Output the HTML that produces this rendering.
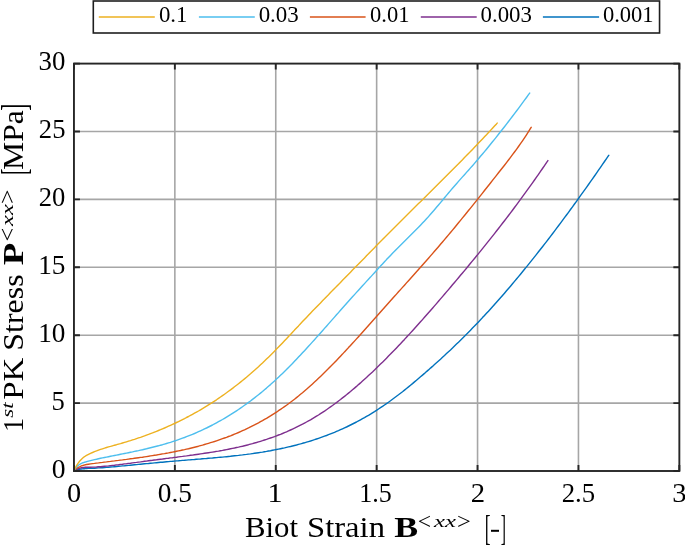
<!DOCTYPE html>
<html><head><meta charset="utf-8"><style>
html,body{margin:0;padding:0;background:#fff;}
body{width:685px;height:545px;overflow:hidden;}
svg{display:block;will-change:transform;}
text{font-family:"Liberation Serif",serif;fill:#000;font-kerning:none;}
</style></head><body>
<svg width="685" height="545" viewBox="0 0 685 545">
<rect width="685" height="545" fill="#fff"/>
<g stroke="#a6a6a6" stroke-width="1.6"><line x1="174.85" y1="63.60" x2="174.85" y2="471.00"/><line x1="275.75" y1="63.60" x2="275.75" y2="471.00"/><line x1="376.65" y1="63.60" x2="376.65" y2="471.00"/><line x1="477.55" y1="63.60" x2="477.55" y2="471.00"/><line x1="578.45" y1="63.60" x2="578.45" y2="471.00"/><line x1="73.95" y1="403.10" x2="679.35" y2="403.10"/><line x1="73.95" y1="335.20" x2="679.35" y2="335.20"/><line x1="73.95" y1="267.30" x2="679.35" y2="267.30"/><line x1="73.95" y1="199.40" x2="679.35" y2="199.40"/><line x1="73.95" y1="131.50" x2="679.35" y2="131.50"/></g>
<g fill="none" stroke-width="1.4" stroke-linejoin="round" stroke-linecap="round"><path d="M74.0,470.5 L74.5,470.3 L75.0,470.2 L75.5,470.1 L76.0,469.9 L76.5,469.8 L77.0,469.7 L77.5,469.6 L78.0,469.5 L78.5,469.4 L79.0,469.3 L79.5,469.2 L80.0,469.2 L80.5,469.1 L81.0,469.0 L81.5,469.0 L82.0,468.9 L82.5,468.9 L83.0,468.8 L83.5,468.8 L84.0,468.7 L84.5,468.7 L85.0,468.6 L85.5,468.6 L86.0,468.6 L86.5,468.5 L88.5,468.4 L90.5,468.3 L92.5,468.2 L94.5,468.2 L96.5,468.0 L98.5,467.9 L100.5,467.8 L102.5,467.7 L104.5,467.5 L106.5,467.4 L108.5,467.2 L110.5,467.0 L112.5,466.9 L114.5,466.7 L116.5,466.5 L118.5,466.3 L120.5,466.1 L122.5,465.9 L124.5,465.8 L126.5,465.6 L128.5,465.4 L130.5,465.2 L132.5,465.0 L134.5,464.8 L136.5,464.6 L138.5,464.4 L140.5,464.2 L142.5,464.0 L144.5,463.8 L146.5,463.6 L148.5,463.5 L150.5,463.3 L152.5,463.1 L154.5,462.9 L156.5,462.7 L158.5,462.5 L160.5,462.3 L162.5,462.2 L164.5,462.0 L166.5,461.8 L168.5,461.6 L170.5,461.4 L172.5,461.3 L174.5,461.1 L176.5,460.9 L178.5,460.8 L180.5,460.6 L182.5,460.4 L184.5,460.3 L186.5,460.1 L188.5,459.9 L190.5,459.8 L192.5,459.6 L194.5,459.5 L196.5,459.3 L198.5,459.1 L200.5,459.0 L202.5,458.8 L204.5,458.6 L206.5,458.5 L208.5,458.3 L210.5,458.1 L212.5,458.0 L214.5,457.8 L216.5,457.6 L218.5,457.4 L220.5,457.2 L222.5,457.1 L224.5,456.9 L226.5,456.7 L228.5,456.5 L230.5,456.3 L232.5,456.0 L234.5,455.8 L236.5,455.6 L238.5,455.4 L240.5,455.1 L242.5,454.9 L244.5,454.6 L246.5,454.4 L248.5,454.1 L250.5,453.9 L252.5,453.6 L254.5,453.3 L256.5,453.0 L258.5,452.7 L260.5,452.4 L262.5,452.1 L264.5,451.7 L266.5,451.4 L268.5,451.0 L270.5,450.7 L272.5,450.3 L274.5,449.9 L276.5,449.5 L278.5,449.1 L280.5,448.7 L282.5,448.3 L284.5,447.9 L286.5,447.4 L288.5,446.9 L290.5,446.5 L292.5,446.0 L294.5,445.5 L296.5,445.0 L298.5,444.4 L300.5,443.9 L302.5,443.3 L304.5,442.8 L306.5,442.2 L308.5,441.6 L310.5,441.0 L312.5,440.3 L314.5,439.7 L316.5,439.0 L318.5,438.3 L320.5,437.6 L322.5,436.9 L324.5,436.2 L326.5,435.5 L328.5,434.7 L330.5,433.9 L332.5,433.1 L334.5,432.3 L336.5,431.4 L338.5,430.6 L340.5,429.7 L342.5,428.8 L344.5,427.9 L346.5,427.0 L348.5,426.0 L350.5,425.0 L352.5,424.0 L354.5,423.0 L356.5,422.0 L358.5,420.9 L360.5,419.8 L362.5,418.7 L364.5,417.6 L366.5,416.4 L368.5,415.3 L370.5,414.1 L372.5,412.8 L374.5,411.6 L376.5,410.3 L378.5,409.0 L380.5,407.7 L382.5,406.4 L384.5,405.0 L386.5,403.6 L388.5,402.2 L390.5,400.8 L392.5,399.3 L394.5,397.8 L396.5,396.3 L398.5,394.8 L400.5,393.2 L402.5,391.7 L404.5,390.1 L406.5,388.5 L408.5,386.9 L410.5,385.2 L412.5,383.6 L414.5,381.9 L416.5,380.2 L418.5,378.5 L420.5,376.8 L422.5,375.1 L424.5,373.4 L426.5,371.6 L428.5,369.9 L430.5,368.1 L432.5,366.4 L434.5,364.6 L436.5,362.8 L438.5,361.0 L440.5,359.2 L442.5,357.3 L444.5,355.5 L446.5,353.6 L448.5,351.7 L450.5,349.9 L452.5,348.0 L454.5,346.0 L456.5,344.1 L458.5,342.2 L460.5,340.2 L462.5,338.2 L464.5,336.2 L466.5,334.2 L468.5,332.2 L470.5,330.2 L472.5,328.1 L474.5,326.1 L476.5,324.0 L478.5,321.9 L480.5,319.8 L482.5,317.6 L484.5,315.5 L486.5,313.3 L488.5,311.2 L490.5,309.0 L492.5,306.8 L494.5,304.5 L496.5,302.3 L498.5,300.0 L500.5,297.8 L502.5,295.5 L504.5,293.2 L506.5,290.8 L508.5,288.5 L510.5,286.2 L512.5,283.8 L514.5,281.4 L516.5,279.0 L518.5,276.6 L520.5,274.2 L522.5,271.8 L524.5,269.3 L526.5,266.9 L528.5,264.4 L530.5,261.9 L532.5,259.4 L534.5,256.9 L536.5,254.4 L538.5,251.8 L540.5,249.3 L542.5,246.7 L544.5,244.1 L546.5,241.6 L548.5,239.0 L550.5,236.3 L552.5,233.7 L554.5,231.1 L556.5,228.4 L558.5,225.8 L560.5,223.1 L562.5,220.4 L564.5,217.7 L566.5,215.0 L568.5,212.3 L570.5,209.5 L572.5,206.8 L574.5,204.0 L576.5,201.3 L578.5,198.5 L580.5,195.7 L582.5,192.9 L584.5,190.1 L586.5,187.3 L588.5,184.5 L590.5,181.7 L592.5,178.8 L594.5,176.0 L596.5,173.1 L598.5,170.2 L600.5,167.3 L602.5,164.4 L604.5,161.5 L606.5,158.6 L608.5,155.7 L608.8,155.3" stroke="#0072BD"/><path d="M74.0,470.5 L74.5,470.2 L75.0,469.9 L75.5,469.7 L76.0,469.4 L76.5,469.2 L77.0,469.0 L77.5,468.8 L78.0,468.6 L78.5,468.5 L79.0,468.3 L79.5,468.2 L80.0,468.1 L80.5,468.0 L81.0,467.9 L81.5,467.8 L82.0,467.7 L82.5,467.6 L83.0,467.5 L83.5,467.5 L84.0,467.4 L84.5,467.4 L85.0,467.3 L85.5,467.3 L86.0,467.3 L86.5,467.3 L88.5,467.2 L90.5,467.2 L92.5,467.1 L94.5,467.1 L96.5,467.0 L98.5,466.8 L100.5,466.7 L102.5,466.5 L104.5,466.3 L106.5,466.1 L108.5,465.9 L110.5,465.6 L112.5,465.4 L114.5,465.2 L116.5,464.9 L118.5,464.7 L120.5,464.4 L122.5,464.2 L124.5,463.9 L126.5,463.7 L128.5,463.4 L130.5,463.2 L132.5,462.9 L134.5,462.6 L136.5,462.4 L138.5,462.1 L140.5,461.9 L142.5,461.6 L144.5,461.3 L146.5,461.1 L148.5,460.8 L150.5,460.5 L152.5,460.3 L154.5,460.0 L156.5,459.8 L158.5,459.5 L160.5,459.2 L162.5,459.0 L164.5,458.7 L166.5,458.4 L168.5,458.2 L170.5,457.9 L172.5,457.7 L174.5,457.4 L176.5,457.2 L178.5,456.9 L180.5,456.6 L182.5,456.4 L184.5,456.1 L186.5,455.9 L188.5,455.6 L190.5,455.3 L192.5,455.1 L194.5,454.8 L196.5,454.5 L198.5,454.2 L200.5,453.9 L202.5,453.6 L204.5,453.3 L206.5,453.0 L208.5,452.7 L210.5,452.4 L212.5,452.1 L214.5,451.8 L216.5,451.4 L218.5,451.1 L220.5,450.7 L222.5,450.4 L224.5,450.0 L226.5,449.6 L228.5,449.2 L230.5,448.8 L232.5,448.4 L234.5,448.0 L236.5,447.5 L238.5,447.1 L240.5,446.6 L242.5,446.2 L244.5,445.7 L246.5,445.2 L248.5,444.7 L250.5,444.1 L252.5,443.6 L254.5,443.0 L256.5,442.5 L258.5,441.9 L260.5,441.3 L262.5,440.7 L264.5,440.0 L266.5,439.4 L268.5,438.7 L270.5,438.0 L272.5,437.3 L274.5,436.6 L276.5,435.8 L278.5,435.0 L280.5,434.3 L282.5,433.5 L284.5,432.6 L286.5,431.8 L288.5,430.9 L290.5,430.0 L292.5,429.1 L294.5,428.2 L296.5,427.2 L298.5,426.2 L300.5,425.2 L302.5,424.2 L304.5,423.1 L306.5,422.0 L308.5,420.9 L310.5,419.8 L312.5,418.6 L314.5,417.4 L316.5,416.2 L318.5,415.0 L320.5,413.7 L322.5,412.4 L324.5,411.1 L326.5,409.7 L328.5,408.3 L330.5,406.9 L332.5,405.5 L334.5,404.0 L336.5,402.6 L338.5,401.0 L340.5,399.5 L342.5,397.9 L344.5,396.4 L346.5,394.8 L348.5,393.1 L350.5,391.5 L352.5,389.8 L354.5,388.1 L356.5,386.4 L358.5,384.6 L360.5,382.9 L362.5,381.1 L364.5,379.3 L366.5,377.5 L368.5,375.6 L370.5,373.7 L372.5,371.9 L374.5,370.0 L376.5,368.0 L378.5,366.1 L380.5,364.1 L382.5,362.2 L384.5,360.2 L386.5,358.2 L388.5,356.1 L390.5,354.1 L392.5,352.0 L394.5,350.0 L396.5,347.9 L398.5,345.8 L400.5,343.7 L402.5,341.5 L404.5,339.4 L406.5,337.2 L408.5,335.1 L410.5,332.9 L412.5,330.7 L414.5,328.5 L416.5,326.3 L418.5,324.0 L420.5,321.8 L422.5,319.6 L424.5,317.3 L426.5,315.0 L428.5,312.8 L430.5,310.5 L432.5,308.2 L434.5,305.9 L436.5,303.6 L438.5,301.2 L440.5,298.9 L442.5,296.6 L444.5,294.3 L446.5,291.9 L448.5,289.6 L450.5,287.2 L452.5,284.8 L454.5,282.5 L456.5,280.1 L458.5,277.7 L460.5,275.3 L462.5,273.0 L464.5,270.6 L466.5,268.2 L468.5,265.7 L470.5,263.3 L472.5,260.9 L474.5,258.5 L476.5,256.0 L478.5,253.6 L480.5,251.1 L482.5,248.6 L484.5,246.1 L486.5,243.6 L488.5,241.1 L490.5,238.6 L492.5,236.1 L494.5,233.6 L496.5,231.0 L498.5,228.5 L500.5,225.9 L502.5,223.3 L504.5,220.7 L506.5,218.1 L508.5,215.5 L510.5,212.8 L512.5,210.2 L514.5,207.5 L516.5,204.8 L518.5,202.1 L520.5,199.4 L522.5,196.7 L524.5,193.9 L526.5,191.2 L528.5,188.4 L530.5,185.6 L532.5,182.8 L534.5,180.0 L536.5,177.1 L538.5,174.3 L540.5,171.4 L542.5,168.5 L544.5,165.6 L546.5,162.6 L547.9,160.6" stroke="#7E2F8E"/><path d="M74.0,470.5 L74.5,470.0 L75.0,469.6 L75.5,469.2 L76.0,468.8 L76.5,468.5 L77.0,468.2 L77.5,467.9 L78.0,467.6 L78.5,467.3 L79.0,467.0 L79.5,466.8 L80.0,466.6 L80.5,466.3 L81.0,466.1 L81.5,465.9 L82.0,465.7 L82.5,465.6 L83.0,465.4 L83.5,465.3 L84.0,465.1 L84.5,465.0 L85.0,464.9 L85.5,464.7 L86.0,464.6 L86.5,464.5 L88.5,464.2 L90.5,463.9 L92.5,463.6 L94.5,463.4 L96.5,463.1 L98.5,462.9 L100.5,462.6 L102.5,462.4 L104.5,462.1 L106.5,461.9 L108.5,461.6 L110.5,461.4 L112.5,461.1 L114.5,460.9 L116.5,460.6 L118.5,460.4 L120.5,460.1 L122.5,459.9 L124.5,459.6 L126.5,459.4 L128.5,459.1 L130.5,458.8 L132.5,458.6 L134.5,458.3 L136.5,458.0 L138.5,457.7 L140.5,457.4 L142.5,457.2 L144.5,456.9 L146.5,456.6 L148.5,456.3 L150.5,455.9 L152.5,455.6 L154.5,455.3 L156.5,455.0 L158.5,454.6 L160.5,454.3 L162.5,453.9 L164.5,453.6 L166.5,453.2 L168.5,452.9 L170.5,452.5 L172.5,452.1 L174.5,451.7 L176.5,451.3 L178.5,450.9 L180.5,450.5 L182.5,450.0 L184.5,449.6 L186.5,449.1 L188.5,448.7 L190.5,448.2 L192.5,447.7 L194.5,447.2 L196.5,446.7 L198.5,446.2 L200.5,445.6 L202.5,445.1 L204.5,444.5 L206.5,443.9 L208.5,443.3 L210.5,442.7 L212.5,442.1 L214.5,441.5 L216.5,440.8 L218.5,440.1 L220.5,439.4 L222.5,438.7 L224.5,438.0 L226.5,437.3 L228.5,436.5 L230.5,435.8 L232.5,435.0 L234.5,434.1 L236.5,433.3 L238.5,432.5 L240.5,431.6 L242.5,430.7 L244.5,429.8 L246.5,428.8 L248.5,427.9 L250.5,426.9 L252.5,425.9 L254.5,424.9 L256.5,423.8 L258.5,422.8 L260.5,421.7 L262.5,420.6 L264.5,419.4 L266.5,418.3 L268.5,417.1 L270.5,415.9 L272.5,414.6 L274.5,413.3 L276.5,412.1 L278.5,410.7 L280.5,409.4 L282.5,408.0 L284.5,406.6 L286.5,405.2 L288.5,403.7 L290.5,402.2 L292.5,400.7 L294.5,399.2 L296.5,397.6 L298.5,396.0 L300.5,394.3 L302.5,392.7 L304.5,391.0 L306.5,389.3 L308.5,387.5 L310.5,385.7 L312.5,383.9 L314.5,382.1 L316.5,380.2 L318.5,378.3 L320.5,376.4 L322.5,374.5 L324.5,372.5 L326.5,370.6 L328.5,368.6 L330.5,366.5 L332.5,364.5 L334.5,362.5 L336.5,360.4 L338.5,358.3 L340.5,356.2 L342.5,354.1 L344.5,351.9 L346.5,349.8 L348.5,347.6 L350.5,345.5 L352.5,343.3 L354.5,341.1 L356.5,338.9 L358.5,336.7 L360.5,334.5 L362.5,332.3 L364.5,330.0 L366.5,327.8 L368.5,325.5 L370.5,323.3 L372.5,321.0 L374.5,318.8 L376.5,316.5 L378.5,314.3 L380.5,312.0 L382.5,309.8 L384.5,307.5 L386.5,305.3 L388.5,303.0 L390.5,300.8 L392.5,298.5 L394.5,296.3 L396.5,294.1 L398.5,291.8 L400.5,289.6 L402.5,287.4 L404.5,285.2 L406.5,282.9 L408.5,280.7 L410.5,278.5 L412.5,276.2 L414.5,274.0 L416.5,271.8 L418.5,269.5 L420.5,267.3 L422.5,265.0 L424.5,262.7 L426.5,260.5 L428.5,258.2 L430.5,255.9 L432.5,253.6 L434.5,251.3 L436.5,249.0 L438.5,246.7 L440.5,244.3 L442.5,242.0 L444.5,239.6 L446.5,237.3 L448.5,234.9 L450.5,232.5 L452.5,230.1 L454.5,227.7 L456.5,225.2 L458.5,222.8 L460.5,220.4 L462.5,217.9 L464.5,215.5 L466.5,213.0 L468.5,210.5 L470.5,208.1 L472.5,205.6 L474.5,203.1 L476.5,200.6 L478.5,198.1 L480.5,195.6 L482.5,193.1 L484.5,190.5 L486.5,188.0 L488.5,185.5 L490.5,183.0 L492.5,180.4 L494.5,177.9 L496.5,175.4 L498.5,172.8 L500.5,170.3 L502.5,167.7 L504.5,165.2 L506.5,162.6 L508.5,160.0 L510.5,157.4 L512.5,154.7 L514.5,152.0 L516.5,149.3 L518.5,146.5 L520.5,143.7 L522.5,140.8 L524.5,137.8 L526.5,134.8 L528.5,131.7 L530.5,128.4 L531.2,127.3" stroke="#D95319"/><path d="M74.0,470.5 L74.5,469.7 L75.0,469.0 L75.5,468.3 L76.0,467.7 L76.5,467.1 L77.0,466.6 L77.5,466.1 L78.0,465.6 L78.5,465.2 L79.0,464.8 L79.5,464.5 L80.0,464.2 L80.5,463.9 L81.0,463.6 L81.5,463.4 L82.0,463.1 L82.5,462.9 L83.0,462.7 L83.5,462.6 L84.0,462.4 L84.5,462.2 L85.0,462.1 L85.5,462.0 L86.0,461.8 L86.5,461.7 L88.5,461.1 L90.5,460.6 L92.5,460.1 L94.5,459.6 L96.5,459.2 L98.5,458.7 L100.5,458.3 L102.5,457.9 L104.5,457.5 L106.5,457.1 L108.5,456.7 L110.5,456.3 L112.5,455.9 L114.5,455.5 L116.5,455.1 L118.5,454.7 L120.5,454.3 L122.5,453.9 L124.5,453.5 L126.5,453.1 L128.5,452.7 L130.5,452.3 L132.5,451.9 L134.5,451.4 L136.5,451.0 L138.5,450.6 L140.5,450.1 L142.5,449.7 L144.5,449.2 L146.5,448.8 L148.5,448.3 L150.5,447.8 L152.5,447.3 L154.5,446.8 L156.5,446.3 L158.5,445.8 L160.5,445.2 L162.5,444.7 L164.5,444.1 L166.5,443.5 L168.5,442.9 L170.5,442.3 L172.5,441.6 L174.5,441.0 L176.5,440.3 L178.5,439.6 L180.5,438.9 L182.5,438.2 L184.5,437.5 L186.5,436.7 L188.5,435.9 L190.5,435.1 L192.5,434.3 L194.5,433.5 L196.5,432.6 L198.5,431.7 L200.5,430.8 L202.5,429.9 L204.5,428.9 L206.5,428.0 L208.5,427.0 L210.5,426.0 L212.5,425.0 L214.5,423.9 L216.5,422.8 L218.5,421.7 L220.5,420.6 L222.5,419.5 L224.5,418.3 L226.5,417.1 L228.5,415.9 L230.5,414.7 L232.5,413.4 L234.5,412.1 L236.5,410.8 L238.5,409.5 L240.5,408.1 L242.5,406.7 L244.5,405.3 L246.5,403.9 L248.5,402.4 L250.5,401.0 L252.5,399.4 L254.5,397.9 L256.5,396.3 L258.5,394.7 L260.5,393.1 L262.5,391.5 L264.5,389.8 L266.5,388.1 L268.5,386.3 L270.5,384.6 L272.5,382.8 L274.5,381.0 L276.5,379.1 L278.5,377.2 L280.5,375.3 L282.5,373.4 L284.5,371.4 L286.5,369.5 L288.5,367.4 L290.5,365.4 L292.5,363.4 L294.5,361.3 L296.5,359.2 L298.5,357.1 L300.5,355.0 L302.5,352.8 L304.5,350.7 L306.5,348.5 L308.5,346.3 L310.5,344.1 L312.5,341.9 L314.5,339.7 L316.5,337.4 L318.5,335.2 L320.5,333.0 L322.5,330.7 L324.5,328.4 L326.5,326.2 L328.5,323.9 L330.5,321.6 L332.5,319.4 L334.5,317.1 L336.5,314.8 L338.5,312.6 L340.5,310.3 L342.5,308.0 L344.5,305.8 L346.5,303.5 L348.5,301.3 L350.5,299.0 L352.5,296.8 L354.5,294.6 L356.5,292.4 L358.5,290.2 L360.5,288.0 L362.5,285.8 L364.5,283.6 L366.5,281.4 L368.5,279.2 L370.5,277.1 L372.5,274.9 L374.5,272.7 L376.5,270.5 L378.5,268.3 L380.5,266.1 L382.5,264.0 L384.5,261.8 L386.5,259.6 L388.5,257.5 L390.5,255.4 L392.5,253.3 L394.5,251.3 L396.5,249.2 L398.5,247.2 L400.5,245.2 L402.5,243.2 L404.5,241.3 L406.5,239.3 L408.5,237.3 L410.5,235.3 L412.5,233.3 L414.5,231.3 L416.5,229.3 L418.5,227.3 L420.5,225.2 L422.5,223.1 L424.5,221.0 L426.5,218.8 L428.5,216.6 L430.5,214.3 L432.5,212.0 L434.5,209.7 L436.5,207.3 L438.5,205.0 L440.5,202.6 L442.5,200.2 L444.5,197.8 L446.5,195.4 L448.5,193.0 L450.5,190.6 L452.5,188.3 L454.5,186.0 L456.5,183.7 L458.5,181.4 L460.5,179.1 L462.5,176.9 L464.5,174.7 L466.5,172.4 L468.5,170.2 L470.5,167.9 L472.5,165.7 L474.5,163.4 L476.5,161.0 L478.5,158.7 L480.5,156.3 L482.5,154.0 L484.5,151.6 L486.5,149.2 L488.5,146.7 L490.5,144.3 L492.5,141.8 L494.5,139.4 L496.5,136.9 L498.5,134.3 L500.5,131.8 L502.5,129.3 L504.5,126.7 L506.5,124.1 L508.5,121.5 L510.5,118.9 L512.5,116.3 L514.5,113.6 L516.5,111.0 L518.5,108.3 L520.5,105.6 L522.5,102.9 L524.5,100.2 L526.5,97.5 L528.5,94.7 L529.7,93.1" stroke="#4DBEEE"/><path d="M74.0,470.5 L74.5,469.2 L75.0,468.3 L75.5,467.4 L76.0,466.5 L76.5,465.7 L77.0,464.9 L77.5,464.1 L78.0,463.4 L78.5,462.7 L79.0,462.0 L79.5,461.4 L80.0,460.8 L80.5,460.2 L81.0,459.7 L81.5,459.2 L82.0,458.7 L82.5,458.3 L83.0,457.8 L83.5,457.4 L84.0,457.0 L84.5,456.7 L85.0,456.3 L85.5,456.0 L86.0,455.6 L86.5,455.3 L88.5,454.3 L90.5,453.3 L92.5,452.5 L94.5,451.6 L96.5,450.9 L98.5,450.1 L100.5,449.4 L102.5,448.8 L104.5,448.2 L106.5,447.5 L108.5,446.9 L110.5,446.4 L112.5,445.8 L114.5,445.2 L116.5,444.7 L118.5,444.1 L120.5,443.6 L122.5,443.0 L124.5,442.4 L126.5,441.8 L128.5,441.2 L130.5,440.6 L132.5,439.9 L134.5,439.3 L136.5,438.6 L138.5,437.9 L140.5,437.3 L142.5,436.6 L144.5,435.9 L146.5,435.1 L148.5,434.4 L150.5,433.6 L152.5,432.9 L154.5,432.1 L156.5,431.3 L158.5,430.5 L160.5,429.7 L162.5,428.8 L164.5,428.0 L166.5,427.1 L168.5,426.2 L170.5,425.3 L172.5,424.4 L174.5,423.5 L176.5,422.5 L178.5,421.6 L180.5,420.6 L182.5,419.6 L184.5,418.6 L186.5,417.5 L188.5,416.5 L190.5,415.4 L192.5,414.3 L194.5,413.2 L196.5,412.1 L198.5,411.0 L200.5,409.8 L202.5,408.6 L204.5,407.4 L206.5,406.2 L208.5,404.9 L210.5,403.7 L212.5,402.4 L214.5,401.1 L216.5,399.8 L218.5,398.4 L220.5,397.0 L222.5,395.6 L224.5,394.2 L226.5,392.8 L228.5,391.3 L230.5,389.9 L232.5,388.4 L234.5,386.8 L236.5,385.3 L238.5,383.7 L240.5,382.1 L242.5,380.5 L244.5,378.9 L246.5,377.2 L248.5,375.5 L250.5,373.8 L252.5,372.0 L254.5,370.3 L256.5,368.5 L258.5,366.7 L260.5,364.8 L262.5,363.0 L264.5,361.1 L266.5,359.1 L268.5,357.2 L270.5,355.2 L272.5,353.2 L274.5,351.2 L276.5,349.1 L278.5,347.1 L280.5,345.0 L282.5,342.9 L284.5,340.8 L286.5,338.7 L288.5,336.5 L290.5,334.4 L292.5,332.3 L294.5,330.1 L296.5,328.0 L298.5,325.9 L300.5,323.7 L302.5,321.6 L304.5,319.5 L306.5,317.4 L308.5,315.3 L310.5,313.2 L312.5,311.1 L314.5,309.1 L316.5,307.0 L318.5,304.9 L320.5,302.9 L322.5,300.8 L324.5,298.8 L326.5,296.7 L328.5,294.7 L330.5,292.6 L332.5,290.6 L334.5,288.5 L336.5,286.5 L338.5,284.4 L340.5,282.4 L342.5,280.3 L344.5,278.3 L346.5,276.2 L348.5,274.2 L350.5,272.2 L352.5,270.1 L354.5,268.1 L356.5,266.0 L358.5,264.0 L360.5,261.9 L362.5,259.9 L364.5,257.9 L366.5,255.8 L368.5,253.8 L370.5,251.7 L372.5,249.7 L374.5,247.7 L376.5,245.6 L378.5,243.6 L380.5,241.6 L382.5,239.6 L384.5,237.5 L386.5,235.5 L388.5,233.5 L390.5,231.5 L392.5,229.5 L394.5,227.5 L396.5,225.5 L398.5,223.5 L400.5,221.5 L402.5,219.5 L404.5,217.5 L406.5,215.5 L408.5,213.5 L410.5,211.6 L412.5,209.6 L414.5,207.6 L416.5,205.6 L418.5,203.6 L420.5,201.7 L422.5,199.7 L424.5,197.7 L426.5,195.7 L428.5,193.8 L430.5,191.8 L432.5,189.8 L434.5,187.8 L436.5,185.8 L438.5,183.8 L440.5,181.8 L442.5,179.8 L444.5,177.8 L446.5,175.8 L448.5,173.8 L450.5,171.8 L452.5,169.8 L454.5,167.8 L456.5,165.8 L458.5,163.8 L460.5,161.7 L462.5,159.7 L464.5,157.6 L466.5,155.6 L468.5,153.5 L470.5,151.5 L472.5,149.4 L474.5,147.3 L476.5,145.2 L478.5,143.1 L480.5,141.0 L482.5,138.9 L484.5,136.8 L486.5,134.7 L488.5,132.5 L490.5,130.4 L492.5,128.2 L494.5,126.0 L496.5,123.9 L497.2,123.1" stroke="#EDB120"/></g>
<path d="M73.95,471.00v-6.0M73.95,63.60v6.0M73.95,471.00h6.0M679.35,471.00h-6.0M174.85,471.00v-6.0M174.85,63.60v6.0M73.95,403.10h6.0M679.35,403.10h-6.0M275.75,471.00v-6.0M275.75,63.60v6.0M73.95,335.20h6.0M679.35,335.20h-6.0M376.65,471.00v-6.0M376.65,63.60v6.0M73.95,267.30h6.0M679.35,267.30h-6.0M477.55,471.00v-6.0M477.55,63.60v6.0M73.95,199.40h6.0M679.35,199.40h-6.0M578.45,471.00v-6.0M578.45,63.60v6.0M73.95,131.50h6.0M679.35,131.50h-6.0M679.35,471.00v-6.0M679.35,63.60v6.0M73.95,63.60h6.0M679.35,63.60h-6.0" stroke="#262626" stroke-width="1.9" fill="none"/>
<rect x="73.95" y="63.6" width="605.40" height="407.40" fill="none" stroke="#262626" stroke-width="1.9"/>
<g><text x="67.02" y="501.84" font-size="26.97" textLength="14.16" lengthAdjust="spacingAndGlyphs">0</text><text x="157.76" y="501.84" font-size="26.97" textLength="34.21" lengthAdjust="spacingAndGlyphs">0.5</text><text x="267.55" y="501.84" font-size="26.97" textLength="15.05" lengthAdjust="spacingAndGlyphs">1</text><text x="359.31" y="501.84" font-size="26.97" textLength="32.50" lengthAdjust="spacingAndGlyphs">1.5</text><text x="470.84" y="501.84" font-size="26.97" textLength="14.34" lengthAdjust="spacingAndGlyphs">2</text><text x="561.73" y="501.84" font-size="26.97" textLength="33.42" lengthAdjust="spacingAndGlyphs">2.5</text><text x="672.33" y="501.84" font-size="26.97" textLength="14.28" lengthAdjust="spacingAndGlyphs">3</text><text x="51.65" y="477.73" font-size="27.86" textLength="13.80" lengthAdjust="spacingAndGlyphs">0</text><text x="51.56" y="409.83" font-size="27.86" textLength="13.28" lengthAdjust="spacingAndGlyphs">5</text><text x="38.21" y="341.93" font-size="27.86" textLength="27.23" lengthAdjust="spacingAndGlyphs">10</text><text x="38.20" y="274.03" font-size="27.86" textLength="27.26" lengthAdjust="spacingAndGlyphs">15</text><text x="38.83" y="206.13" font-size="27.86" textLength="26.58" lengthAdjust="spacingAndGlyphs">20</text><text x="38.83" y="138.23" font-size="27.86" textLength="26.61" lengthAdjust="spacingAndGlyphs">25</text><text x="38.62" y="70.33" font-size="27.86" textLength="26.80" lengthAdjust="spacingAndGlyphs">30</text></g>
<rect x="93.3" y="1.0" width="566.25" height="32.0" fill="#fff" stroke="#1e1e1e" stroke-width="1.6"/>
<g><line x1="98.8" y1="17.0" x2="154.8" y2="17.0" stroke="#EDB120" stroke-width="1.7"/><text x="158.93" y="22.48" font-size="22.97" textLength="28.54" lengthAdjust="spacingAndGlyphs">0.1</text><line x1="198.9" y1="17.0" x2="254.8" y2="17.0" stroke="#4DBEEE" stroke-width="1.7"/><text x="258.63" y="22.48" font-size="22.97" textLength="40.17" lengthAdjust="spacingAndGlyphs">0.03</text><line x1="309.9" y1="17.0" x2="365.6" y2="17.0" stroke="#D95319" stroke-width="1.7"/><text x="370.04" y="22.48" font-size="22.97" textLength="39.41" lengthAdjust="spacingAndGlyphs">0.01</text><line x1="420.8" y1="17.0" x2="476.7" y2="17.0" stroke="#7E2F8E" stroke-width="1.7"/><text x="480.53" y="22.48" font-size="22.97" textLength="51.36" lengthAdjust="spacingAndGlyphs">0.003</text><line x1="542.9" y1="17.0" x2="599.1" y2="17.0" stroke="#0072BD" stroke-width="1.7"/><text x="602.94" y="22.48" font-size="22.97" textLength="50.71" lengthAdjust="spacingAndGlyphs">0.001</text></g>
<g><text x="244.91" y="537.00" font-size="30.00" textLength="53.07" lengthAdjust="spacingAndGlyphs">Biot</text><text x="307.02" y="537.00" font-size="30.00" textLength="77.98" lengthAdjust="spacingAndGlyphs">Strain</text><text x="394.31" y="536.81" font-size="29.34" textLength="23.89" lengthAdjust="spacingAndGlyphs" font-weight="bold">B</text><text x="417.72" y="529.35" font-size="22.59" textLength="13.33" lengthAdjust="spacingAndGlyphs">&lt;</text><text x="434.10" y="526.90" font-size="17.43" textLength="21.78" lengthAdjust="spacingAndGlyphs" font-style="italic">xx</text><text x="457.06" y="529.35" font-size="22.59" textLength="13.82" lengthAdjust="spacingAndGlyphs">&gt;</text><text x="484.80" y="539.66" font-size="35.40" textLength="5.83" lengthAdjust="spacingAndGlyphs">[</text><rect x="491" y="529.8" width="8" height="2" fill="#000"/><text x="500.63" y="539.66" font-size="35.40" textLength="5.23" lengthAdjust="spacingAndGlyphs">]</text></g>
<g transform="translate(23.4,430.0) rotate(-90)"><text x="-2.07" y="0.00" font-size="30.00" textLength="14.06" lengthAdjust="spacingAndGlyphs">1</text><text x="12.22" y="-10.40" font-size="17.43" textLength="15.32" lengthAdjust="spacingAndGlyphs" font-style="italic">st</text><text x="30.35" y="0.00" font-size="30.00" textLength="41.98" lengthAdjust="spacingAndGlyphs">PK</text><text x="79.37" y="0.00" font-size="30.00" textLength="76.19" lengthAdjust="spacingAndGlyphs">Stress</text><text x="164.77" y="0.00" font-size="29.34" textLength="22.58" lengthAdjust="spacingAndGlyphs" font-weight="bold">P</text><text x="188.58" y="-8.35" font-size="22.59" textLength="13.82" lengthAdjust="spacingAndGlyphs">&lt;</text><text x="204.10" y="-10.40" font-size="17.43" textLength="21.68" lengthAdjust="spacingAndGlyphs" font-style="italic">xx</text><text x="226.00" y="-8.35" font-size="22.59" textLength="14.42" lengthAdjust="spacingAndGlyphs">&gt;</text><text x="255.23" y="2.66" font-size="35.40" textLength="6.13" lengthAdjust="spacingAndGlyphs">[</text><text x="260.09" y="0.00" font-size="30.00" textLength="59.64" lengthAdjust="spacingAndGlyphs">MPa</text><text x="319.34" y="2.66" font-size="35.40" textLength="7.03" lengthAdjust="spacingAndGlyphs">]</text></g>
</svg>
</body></html>
